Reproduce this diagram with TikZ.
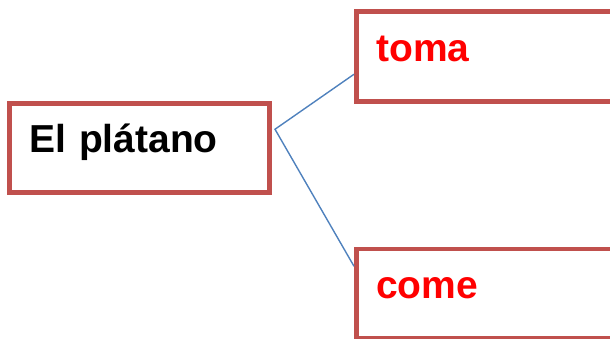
\documentclass[tikz,border=0pt]{standalone}
\usepackage{fontspec}
\usepackage{xcolor}
\setmainfont{Liberation Sans}
\definecolor{boxred}{RGB}{192,80,77}
\definecolor{lineblue}{RGB}{79,129,189}
\tikzset{wordbox/.style={draw=boxred,line width=4.5pt,rectangle,anchor=north west,
        align=left,inner xsep=20pt,inner ysep=2pt,
        text height=28pt,text depth=18pt,minimum height=89pt,
        font=\fontsize{39}{47}\selectfont\bfseries},
    verb/.style={wordbox,text=red,text width=230pt,minimum width=270pt},
    link/.style={draw=lineblue,line width=1.4pt}}

\begin{document}
\begin{tikzpicture}[x=1pt,y=1pt]
	\clip (0,0) rectangle (610,-338);
	\node[wordbox,text width=220pt,minimum width=260pt] (platano) at (7,-101) {El plátano};
	\node[verb,minimum height=90pt] (toma) at (354,-9) {toma};
	\node[verb] (come) at (354,-246.5) {come};
	\coordinate (fork) at ([shift={(3.5pt,18.5pt)}]platano.east);
	\draw[link] ([yshift=-18pt]toma.west) -- (fork) -- ([yshift=27pt]come.west);
\end{tikzpicture}
\end{document}
